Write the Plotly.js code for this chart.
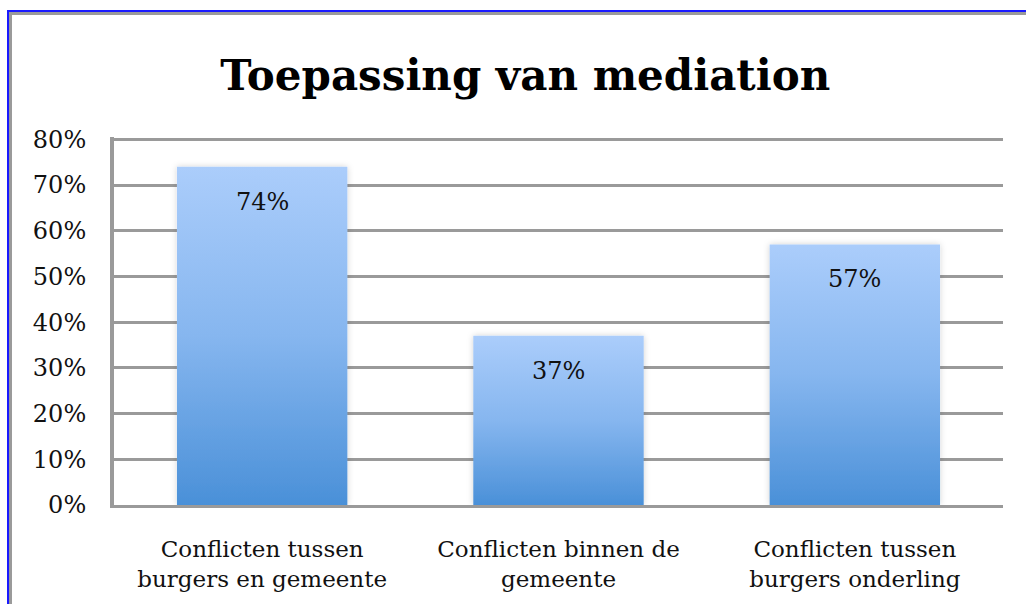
<!DOCTYPE html>
<html>
<head>
<meta charset="utf-8">
<script src="https://cdn.plot.ly/plotly-3.0.1.min.js"></script>
<style>
  html, body { margin: 0; padding: 0; background: #fff; overflow: hidden; width: 1026px; height: 604px; }
  #frame { position: absolute; left: 7px; top: 10px; width: 1019px; height: 594px;
           border-left: 2px solid #1a1aff; border-top: 2px solid #1a1aff; box-sizing: border-box; }
  #frame2 { position: absolute; left: 9px; top: 12px; width: 1017px; height: 592px;
           border-left: 3px solid #9a9a9a; border-top: 3px solid #9a9a9a; box-sizing: border-box; }
  #chart { position: absolute; left: 0; top: 0; width: 1026px; height: 604px; }
</style>
</head>
<body>
<div id="frame"></div>
<div id="frame2"></div>
<div id="chart"></div>
<script>
const categories = [
  "Conflicten tussen<br>burgers en gemeente",
  "Conflicten binnen de<br>gemeente",
  "Conflicten tussen<br>burgers onderling"
];
const values = [0.74, 0.37, 0.57];
const valueLabels = ["74%", "37%", "57%"];
const tickValues = [0, 0.1, 0.2, 0.3, 0.4, 0.5, 0.6, 0.7, 0.8];
const tickLabels = ["0%", "10%", "20%", "30%", "40%", "50%", "60%", "70%", "80%"];

const serif = "DejaVu Serif, Liberation Serif, serif";

const trace = {
  type: "bar",
  x: categories,
  y: values,
  marker: { color: "#7aaeea", line: { width: 0 } },
  hoverinfo: "none"
};

const annotations = categories.map((c, i) => ({
  x: c, y: values[i], xref: "x", yref: "y",
  text: valueLabels[i], showarrow: false,
  yanchor: "top", yshift: -19,
  font: { family: serif, size: 24, color: "#111" }
}));

const layout = {
  width: 1026, height: 604,
  margin: { l: 114, r: 23, t: 137, b: 99 },
  paper_bgcolor: "rgba(0,0,0,0)",
  plot_bgcolor: "rgba(0,0,0,0)",
  title: {
    text: "<b>Toepassing van mediation</b>",
    font: { family: serif, size: 42, color: "#000" },
    x: 0.512, xref: "container", xanchor: "center",
    y: 0.875, yref: "container", yanchor: "middle"
  },
  bargap: 0.425,
  showlegend: false,
  xaxis: {
    type: "category",
    showgrid: false,
    showline: true, linecolor: "#9a9a9a", linewidth: 3,
    ticks: "", ticklabelstandoff: 21,
    tickfont: { family: serif, size: 23, color: "#111" },
    fixedrange: true
  },
  yaxis: {
    range: [0, 0.805],
    tickvals: tickValues, ticktext: tickLabels,
    showgrid: true, gridcolor: "#9a9a9a", gridwidth: 3,
    zeroline: false,
    showline: true, linecolor: "#9a9a9a", linewidth: 4,
    ticks: "", ticklabelstandoff: 19,
    tickfont: { family: serif, size: 24, color: "#111" },
    fixedrange: true
  },
  annotations: annotations
};

Plotly.newPlot("chart", [trace], layout, { displayModeBar: false, staticPlot: true }).then(function (gd) {
  const svg = gd.querySelector("svg.main-svg");
  const ns = "http://www.w3.org/2000/svg";
  let defs = svg.querySelector("defs");
  if (!defs) { defs = document.createElementNS(ns, "defs"); svg.insertBefore(defs, svg.firstChild); }
  const grad = document.createElementNS(ns, "linearGradient");
  grad.setAttribute("id", "barGrad");
  grad.setAttribute("x1", "0"); grad.setAttribute("y1", "0");
  grad.setAttribute("x2", "0"); grad.setAttribute("y2", "1");
  [["0%", "#abcdfb"], ["50%", "#86b6ef"], ["100%", "#4a90d8"]].forEach(function (s) {
    const st = document.createElementNS(ns, "stop");
    st.setAttribute("offset", s[0]); st.setAttribute("stop-color", s[1]);
    grad.appendChild(st);
  });
  defs.appendChild(grad);
  const filt = document.createElementNS(ns, "filter");
  filt.setAttribute("id", "barShadow");
  filt.setAttribute("x", "-10%"); filt.setAttribute("y", "-10%");
  filt.setAttribute("width", "120%"); filt.setAttribute("height", "120%");
  const ds = document.createElementNS(ns, "feDropShadow");
  ds.setAttribute("dx", "0"); ds.setAttribute("dy", "0");
  ds.setAttribute("stdDeviation", "3");
  ds.setAttribute("flood-color", "#000"); ds.setAttribute("flood-opacity", "0.18");
  filt.appendChild(ds);
  defs.appendChild(filt);
  gd.querySelectorAll(".barlayer .point path").forEach(function (p) {
    p.style.fill = "url(#barGrad)";
    p.setAttribute("filter", "url(#barShadow)");
  });
});
</script>
</body>
</html>
